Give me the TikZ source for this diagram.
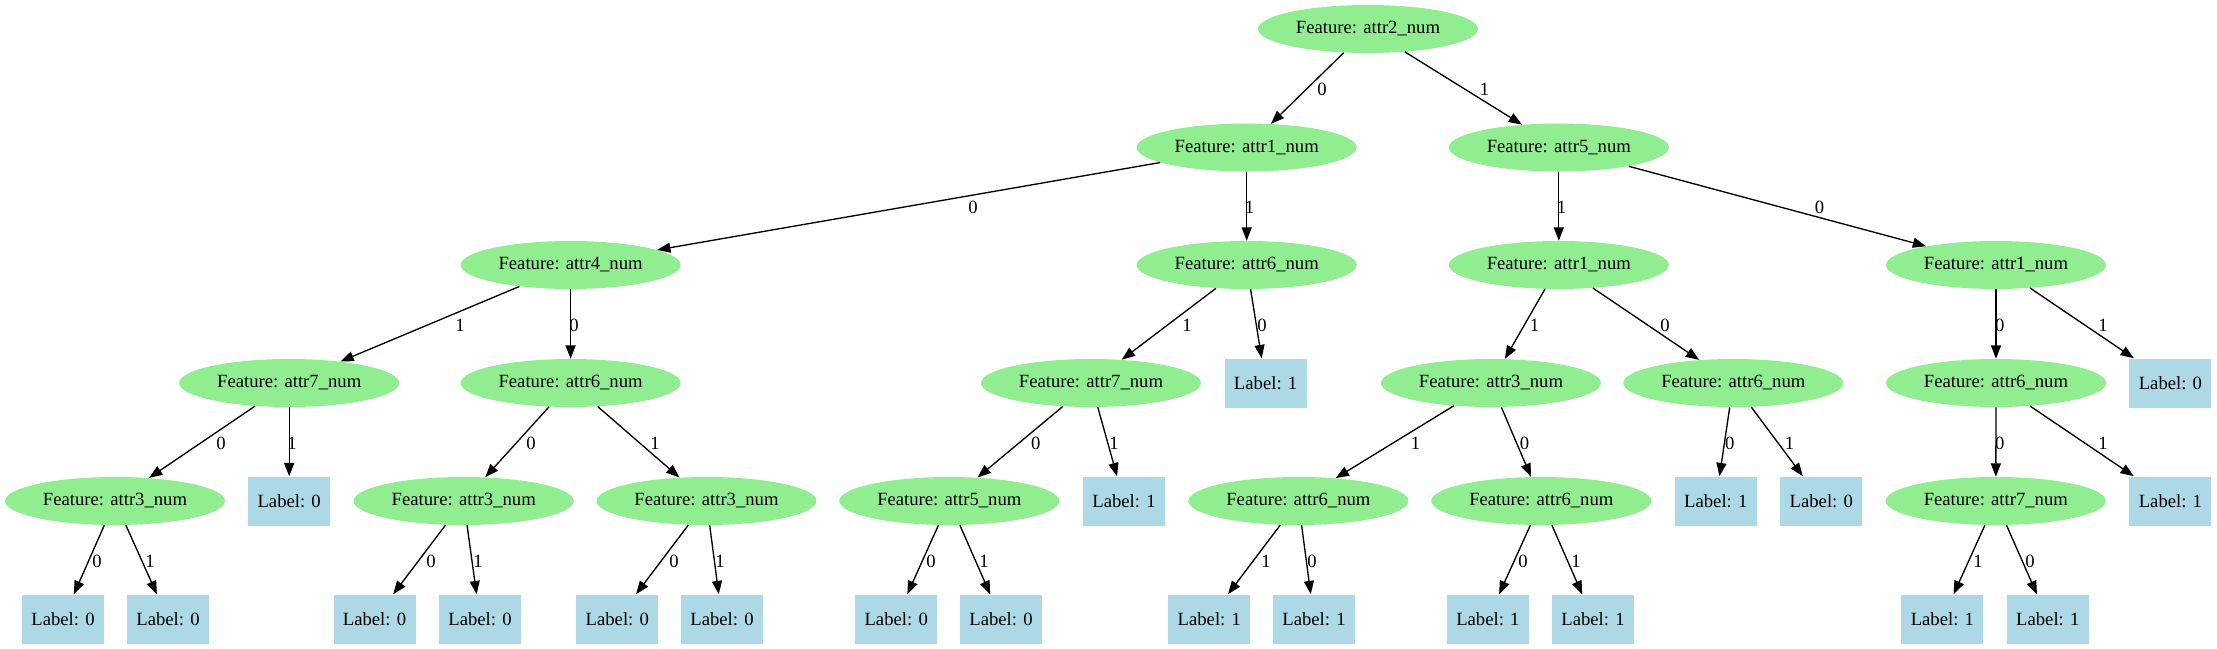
\documentclass[tikz,border=0pt]{standalone}
\usepackage{fontspec}
\setmainfont{Liberation Serif}
\usetikzlibrary{arrows.meta,shapes.geometric}
\definecolor{featgreen}{HTML}{90EE90}
\definecolor{leafblue}{HTML}{ADD8E6}
\tikzset{
  feat/.style={ellipse, fill=featgreen, draw=none, minimum width=165pt, minimum height=36pt, inner sep=0pt, font=\fontsize{14pt}{16pt}\selectfont},
  leaf/.style={rectangle, fill=leafblue, draw=none, minimum width=61.5pt, minimum height=36.75pt, inner sep=0pt, font=\fontsize{14pt}{16pt}\selectfont},
  conn/.style={draw=black, line width=1pt, -{Triangle[length=10pt,width=7.5pt]}},
  elab/.style={inner sep=0pt, font=\fontsize{14pt}{16pt}\selectfont}
}
\begin{document}
\begin{tikzpicture}[x=0.75pt,y=-0.75pt]
\useasboundingbox (0,0) rectangle (2217,649);
% level 0
\node[feat] (r) at (1368,29) {Feature: attr2\_num};
% level 1
\node[feat] (a) at (1246.7,147.5) {Feature: attr1\_num};
\node[feat] (b) at (1558.8,147.5) {Feature: attr5\_num};
% level 2
\node[feat] (a0) at (570.6,265) {Feature: attr4\_num};
\node[feat] (a1) at (1246.7,265) {Feature: attr6\_num};
\node[feat] (b1) at (1558.8,265) {Feature: attr1\_num};
\node[feat] (b0) at (1996,265) {Feature: attr1\_num};
% level 3
\node[feat] (a01) at (289.2,383) {Feature: attr7\_num};
\node[feat] (a00) at (570.6,383) {Feature: attr6\_num};
\node[feat] (a11) at (1091,383) {Feature: attr7\_num};
\node[leaf] (a10) at (1265.6,383) {Label: 1};
\node[feat] (b11) at (1491,383) {Feature: attr3\_num};
\node[feat] (b10) at (1733.3,383) {Feature: attr6\_num};
\node[feat] (b00) at (1996,383) {Feature: attr6\_num};
\node[leaf] (b01) at (2170.4,383) {Label: 0};
% level 4
\node[feat] (a010) at (115,501) {Feature: attr3\_num};
\node[leaf] (a011) at (289.2,501) {Label: 0};
\node[feat] (a000) at (463.7,501) {Feature: attr3\_num};
\node[feat] (a001) at (706.5,501) {Feature: attr3\_num};
\node[feat] (a110) at (949.3,501) {Feature: attr5\_num};
\node[leaf] (a111) at (1124,501) {Label: 1};
\node[feat] (b111) at (1298.4,501) {Feature: attr6\_num};
\node[feat] (b110) at (1541.3,501) {Feature: attr6\_num};
\node[leaf] (b100) at (1715.8,501) {Label: 1};
\node[leaf] (b101) at (1821.3,501) {Label: 0};
\node[feat] (b000) at (1995.8,501) {Feature: attr7\_num};
\node[leaf] (b001) at (2170.4,501) {Label: 1};
% level 5
\node[leaf] (a0100) at (63,619) {Label: 0};
\node[leaf] (a0101) at (168,619) {Label: 0};
\node[leaf] (a0000) at (374.5,619) {Label: 0};
\node[leaf] (a0001) at (480,619) {Label: 0};
\node[leaf] (a0010) at (617.3,619) {Label: 0};
\node[leaf] (a0011) at (722,619) {Label: 0};
\node[leaf] (a1100) at (896.2,619) {Label: 0};
\node[leaf] (a1101) at (1001,619) {Label: 0};
\node[leaf] (b1111) at (1209.3,619) {Label: 1};
\node[leaf] (b1110) at (1314,619) {Label: 1};
\node[leaf] (b1100) at (1487.9,619) {Label: 1};
\node[leaf] (b1101) at (1593,619) {Label: 1};
\node[leaf] (b0001) at (1942.4,619) {Label: 1};
\node[leaf] (b0000) at (2047.8,619) {Label: 1};
% edges
\draw[conn] (r) -- (a);
\draw[conn] (r) -- (b);
\draw[conn] (a) -- (a0);
\draw[conn] (a) -- (a1);
\draw[conn] (b) -- (b1);
\draw[conn] (b) -- (b0);
\draw[conn] (a0) -- (a01);
\draw[conn] (a0) -- (a00);
\draw[conn] (a1) -- (a11);
\draw[conn] (a1) -- (a10);
\draw[conn] (b1) -- (b11);
\draw[conn] (b1) -- (b10);
\draw[conn] (b0) -- (b00);
\draw[conn] (b0) -- (b01);
\draw[conn] (a01) -- (a010);
\draw[conn] (a01) -- (a011);
\draw[conn] (a00) -- (a000);
\draw[conn] (a00) -- (a001);
\draw[conn] (a11) -- (a110);
\draw[conn] (a11) -- (a111);
\draw[conn] (b11) -- (b111);
\draw[conn] (b11) -- (b110);
\draw[conn] (b10) -- (b100);
\draw[conn] (b10) -- (b101);
\draw[conn] (b00) -- (b000);
\draw[conn] (b00) -- (b001);
\draw[conn] (a010) -- (a0100);
\draw[conn] (a010) -- (a0101);
\draw[conn] (a000) -- (a0000);
\draw[conn] (a000) -- (a0001);
\draw[conn] (a001) -- (a0010);
\draw[conn] (a001) -- (a0011);
\draw[conn] (a110) -- (a1100);
\draw[conn] (a110) -- (a1101);
\draw[conn] (b111) -- (b1111);
\draw[conn] (b111) -- (b1110);
\draw[conn] (b110) -- (b1100);
\draw[conn] (b110) -- (b1101);
\draw[conn] (b000) -- (b0001);
\draw[conn] (b000) -- (b0000);
% edge labels
\node[elab] (l1) at (1322,89) {0};
\node[elab] (l2) at (1484.6,89) {1};
\node[elab] (l3) at (973,207) {0};
\node[elab] (l4) at (1249.6,207) {1};
\node[elab] (l5) at (1561.6,207) {1};
\node[elab] (l6) at (1819.5,207) {0};
\node[elab] (l7) at (460,325) {1};
\node[elab] (l8) at (574,325) {0};
\node[elab] (l9) at (1187,325) {1};
\node[elab] (l10) at (1262,325) {0};
\node[elab] (l11) at (1534.5,325) {1};
\node[elab] (l12) at (1665,325) {0};
\node[elab] (l13) at (1999.7,325) {0};
\node[elab] (l14) at (2103,325) {1};
\node[elab] (l15) at (221,443) {0};
\node[elab] (l16) at (292,443) {1};
\node[elab] (l17) at (531,443) {0};
\node[elab] (l18) at (655,443) {1};
\node[elab] (l19) at (1035.7,443) {0};
\node[elab] (l20) at (1114,443) {1};
\node[elab] (l21) at (1415.6,443) {1};
\node[elab] (l22) at (1524.6,443) {0};
\node[elab] (l23) at (1729.7,443) {0};
\node[elab] (l24) at (1789.6,443) {1};
\node[elab] (l25) at (1999.7,443) {0};
\node[elab] (l26) at (2103,443) {1};
\node[elab] (l27) at (97,561) {0};
\node[elab] (l28) at (150,561) {1};
\node[elab] (l29) at (431,561) {0};
\node[elab] (l30) at (478,561) {1};
\node[elab] (l31) at (674,561) {0};
\node[elab] (l32) at (720,561) {1};
\node[elab] (l33) at (931,561) {0};
\node[elab] (l34) at (984,561) {1};
\node[elab] (l35) at (1266,561) {1};
\node[elab] (l36) at (1312,561) {0};
\node[elab] (l37) at (1523,561) {0};
\node[elab] (l38) at (1576,561) {1};
\node[elab] (l39) at (1978,561) {1};
\node[elab] (l40) at (2030,561) {0};
\end{tikzpicture}
\end{document}
